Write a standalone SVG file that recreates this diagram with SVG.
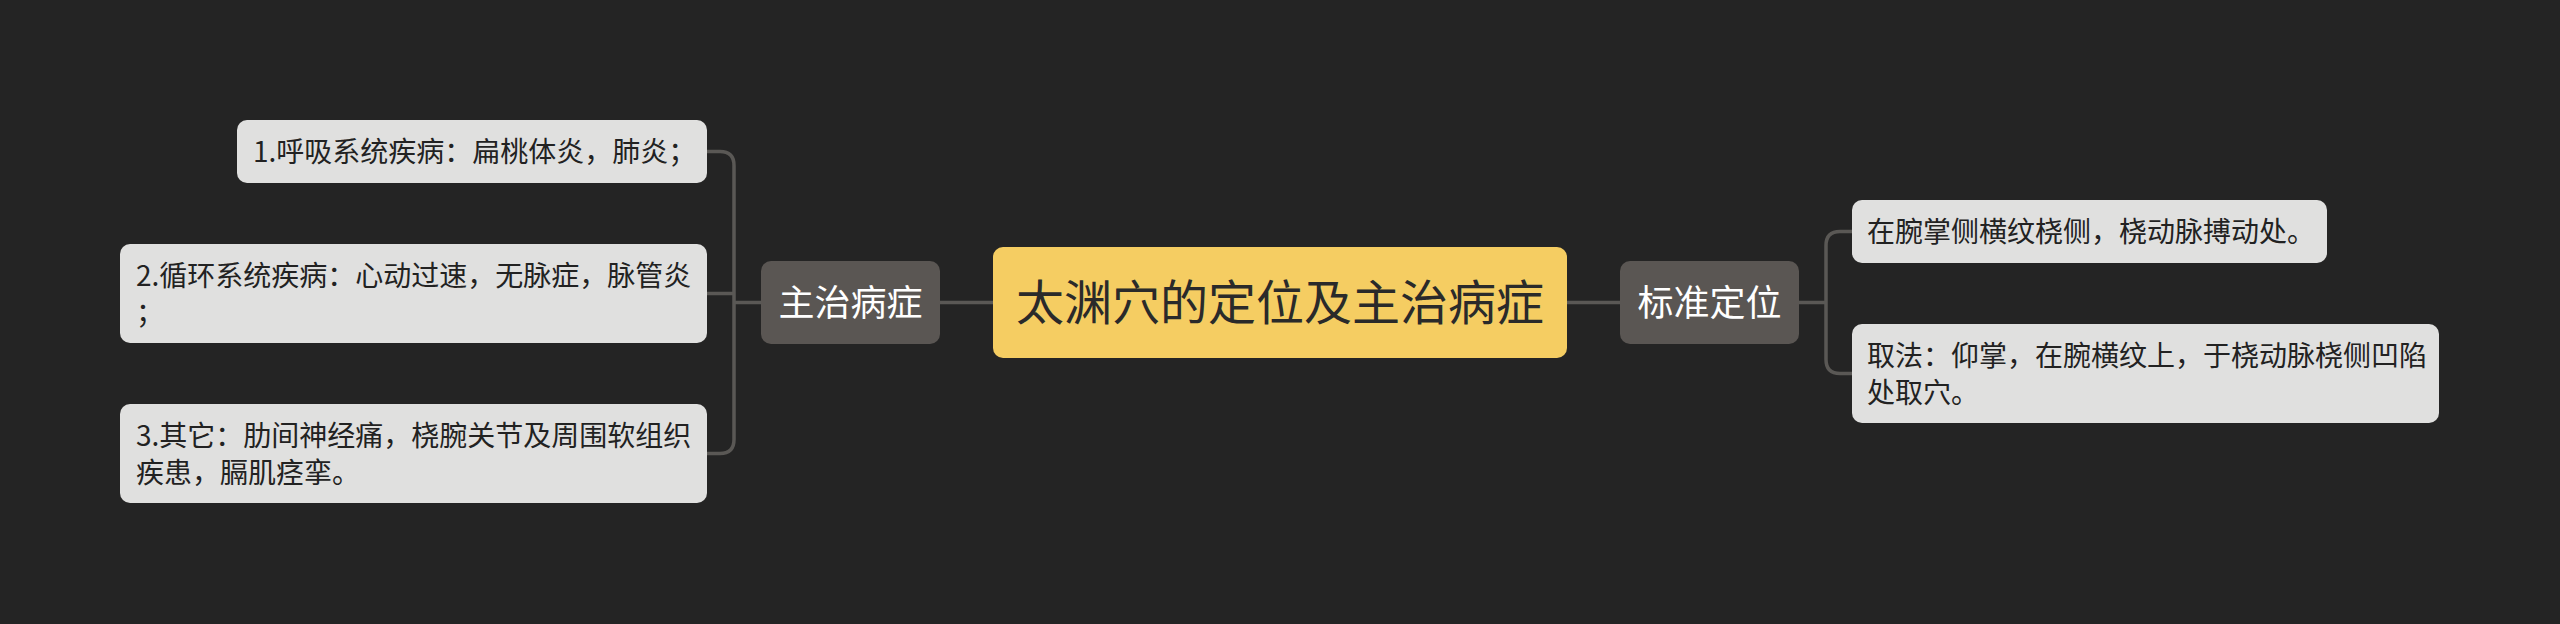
<svg xmlns="http://www.w3.org/2000/svg" width="2560" height="624" viewBox="0 0 2560 624">
<style>
text{font-family:"Noto Sans CJK SC","Noto Sans",sans-serif}
.leaf rect{fill:#e0e0df}
.leaf text{fill:#222222;font-size:28px}
.sub rect{fill:#5a5653}
.sub text{fill:#ffffff;font-size:36px;text-anchor:middle}
.root rect{fill:#f5cd62}
.root text{fill:#2a2a2a;font-size:48px;text-anchor:middle}
.conn path{fill:none;stroke:#5a5855;stroke-width:3.5}
</style>
<rect width="2560" height="624" fill="#242424"/>
<g class="conn">
<path d="M940 302.5H993"/>
<path d="M1567 302.5H1620"/>
<path d="M761 302.5H734"/>
<path d="M707 151.5H720Q734 151.5 734 165.5V439.5Q734 453.5 720 453.5H707"/>
<path d="M734 293.5H707"/>
<path d="M1799 302.5H1826"/>
<path d="M1852 231.5H1840Q1826 231.5 1826 245.5V359.5Q1826 373.5 1840 373.5H1852"/>
</g>
<g id="root" class="root">
<rect x="993" y="247" width="574" height="111" rx="10"/>
<text x="1280" y="320">太渊穴的定位及主治病症</text>
</g>
<g id="zhuzhi" class="sub">
<rect x="761" y="261" width="179" height="83" rx="10"/>
<text x="850.5" y="316">主治病症</text>
</g>
<g id="biaozhun" class="sub">
<rect x="1620" y="261" width="179" height="83" rx="10"/>
<text x="1709.5" y="316">标准定位</text>
</g>
<g id="l1" class="leaf">
<rect x="237" y="120" width="470" height="63" rx="10"/>
<text x="253" y="162">1.呼吸系统疾病：扁桃体炎，肺炎；</text>
</g>
<g id="l2" class="leaf">
<rect x="120" y="244" width="587" height="99" rx="10"/>
<text x="136" y="286">2.循环系统疾病：心动过速，无脉症，脉管炎</text>
<text x="136" y="323">；</text>
</g>
<g id="l3" class="leaf">
<rect x="120" y="404" width="587" height="99" rx="10"/>
<text x="136" y="446">3.其它：肋间神经痛，桡腕关节及周围软组织</text>
<text x="136" y="483">疾患，膈肌痉挛。</text>
</g>
<g id="r1" class="leaf">
<rect x="1852" y="200" width="475" height="63" rx="10"/>
<text x="1867" y="242">在腕掌侧横纹桡侧，桡动脉搏动处。</text>
</g>
<g id="r2" class="leaf">
<rect x="1852" y="324" width="587" height="99" rx="10"/>
<text x="1867" y="366">取法：仰掌，在腕横纹上，于桡动脉桡侧凹陷</text>
<text x="1867" y="403">处取穴。</text>
</g>
</svg>
